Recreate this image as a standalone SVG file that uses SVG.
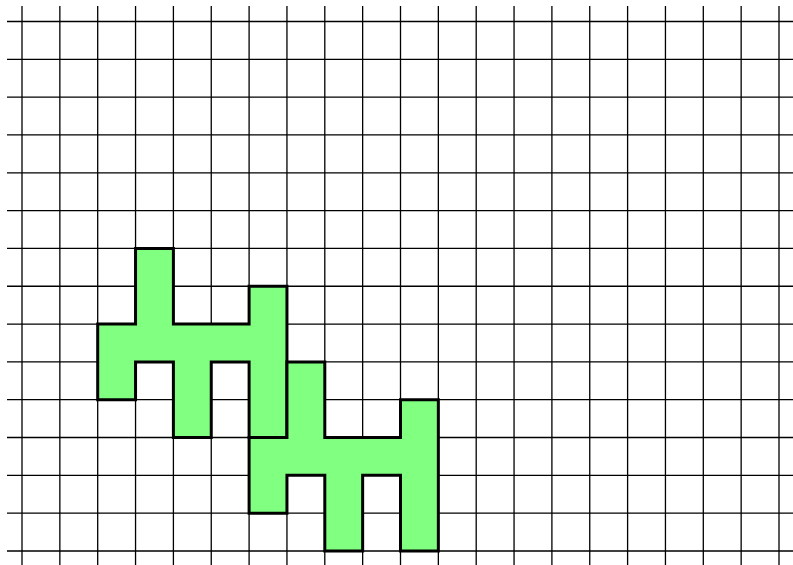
<svg xmlns="http://www.w3.org/2000/svg" width="793" height="565" viewBox="0 0 793 565">
<style>
.grid{stroke:#000;stroke-width:1.3;fill:none}
.shape{fill:#80ff80;stroke:#000;stroke-width:3;stroke-linejoin:miter;vector-effect:non-scaling-stroke}
</style>
<rect width="793" height="565" fill="#fff"/>
<g id="grid" class="grid">
<path d="M22 6V565M59.85 6V565M97.7 6V565M135.55 6V565M173.4 6V565M211.25 6V565M249.1 6V565M286.95 6V565M324.8 6V565M362.65 6V565M400.5 6V565M438.35 6V565M476.2 6V565M514.05 6V565M551.9 6V565M589.75 6V565M627.6 6V565M665.45 6V565M703.3 6V565M741.15 6V565M779 6V565"/>
<path d="M7 21.5H793M7 59.32H793M7 97.14H793M7 134.96H793M7 172.78H793M7 210.6H793M7 248.42H793M7 286.24H793M7 324.06H793M7 361.88H793M7 399.7H793M7 437.52H793M7 475.34H793M7 513.16H793M7 550.98H793"/>
</g>
<g transform="translate(22 21.5) scale(37.85 37.82)">
<g id="shape1">
<polygon class="shape" points="3,6 4,6 4,8 6,8 6,7 7,7 7,11 6,11 6,9 5,9 5,11 4,11 4,9 3,9 3,10 2,10 2,8 3,8"/>
</g>
<g id="shape2">
<polygon class="shape" points="7,9 8,9 8,11 10,11 10,10 11,10 11,14 10,14 10,12 9,12 9,14 8,14 8,12 7,12 7,13 6,13 6,11 7,11"/>
</g>
</g>
</svg>
